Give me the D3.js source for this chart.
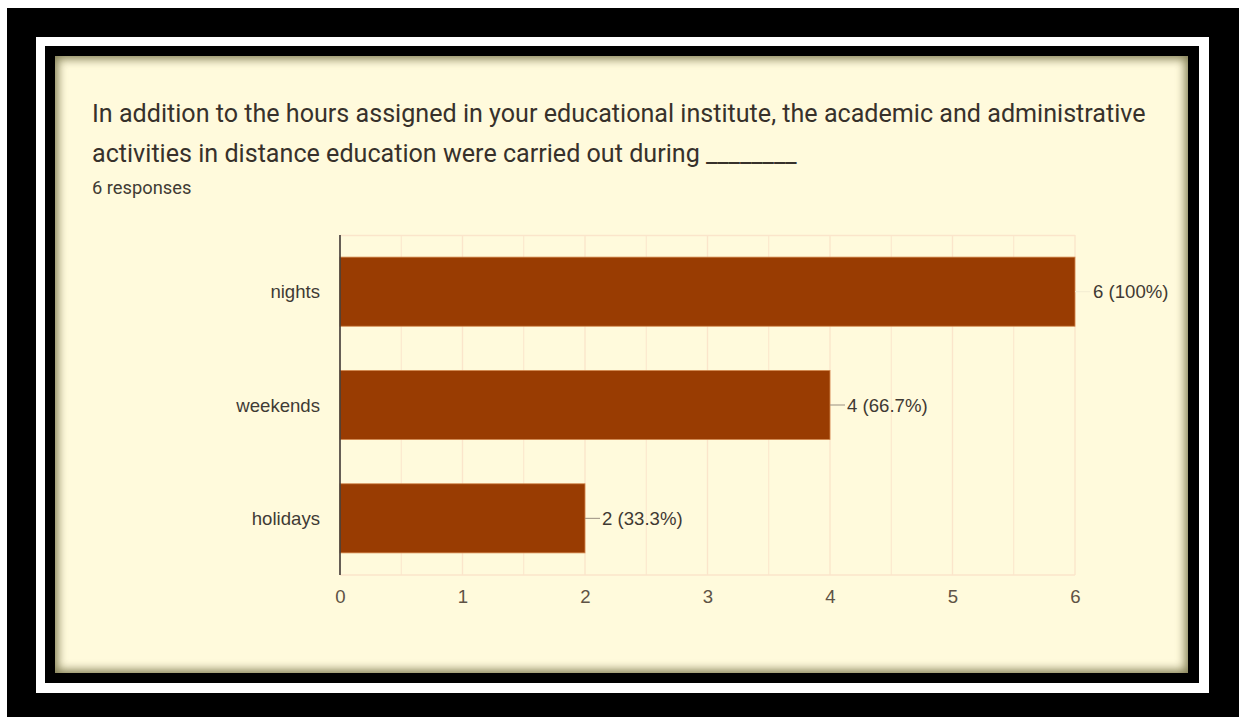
<!DOCTYPE html>
<html>
<head>
<meta charset="utf-8">
<script src="https://cdn.jsdelivr.net/npm/d3@7"></script>
<style>
  html, body { margin: 0; padding: 0; background: #ffffff; }
  body { width: 1239px; height: 717px; position: relative; overflow: hidden; font-family: Roboto, "Noto Sans", sans-serif; }
  .frame { position: absolute; }
  #chart { position: absolute; left: 0; top: 0; }
</style>
</head>
<body>
<div class="frame" style="left:7px;top:8px;width:1232px;height:709px;background:#000;"></div>
<div class="frame" style="left:36px;top:37px;width:1173px;height:656px;background:#fff;"></div>
<div class="frame" style="left:45px;top:46px;width:1154px;height:637px;background:#000;"></div>
<div class="frame" style="left:55px;top:56px;width:1133px;height:617px;background:#fffadc;box-shadow: inset 0 0 10px 3px rgba(90,85,40,0.75);"></div>
<svg id="chart" width="1239" height="717"></svg>
<script>
// Survey question and response counts
const titleLines = [
  "In addition to the hours assigned in your educational institute, the academic and administrative",
  "activities in distance education were carried out during ________"
];
const subtitle = "6 responses";
const categories = ["nights", "weekends", "holidays"];
const counts = [6, 4, 2];
const percents = ["100%", "66.7%", "33.3%"];
const xTicks = [0, 1, 2, 3, 4, 5, 6];
const xDomain = [0, 6];

const labelFont = "'Liberation Sans', Arial, sans-serif";
const svg = d3.select("#chart");

// Title block
titleLines.forEach((t, i) => {
  svg.append("text")
    .attr("x", 92)
    .attr("y", 122 + i * 40)
    .attr("font-size", 25.12)
    .attr("fill", "#37312b")
    .text(t);
});
svg.append("text")
  .attr("x", 92).attr("y", 194)
  .attr("font-size", 18.3)
  .attr("fill", "#413b34")
  .text(subtitle);

// Plot area
const plot = { left: 340, right: 1075, top: 235, bottom: 575 };

const x = d3.scaleLinear().domain(xDomain).range([plot.left, plot.right]);
const y = d3.scaleBand().domain(categories)
  .range([plot.top, plot.bottom])
  .paddingInner(0.39)
  .paddingOuter(0.195);

const gridColor = "#fbe5cb";

// Minor (half-unit) and major gridlines
const minor = d3.range(xDomain[0], xDomain[1] + 0.001, 0.5);
svg.append("g").selectAll("line").data(minor).join("line")
  .attr("x1", d => x(d)).attr("x2", d => x(d))
  .attr("y1", plot.top).attr("y2", plot.bottom)
  .attr("stroke", gridColor)
  .attr("stroke-width", d => Number.isInteger(d) ? 1.4 : 1);

// Plot frame top/bottom
svg.append("line")
  .attr("x1", plot.left).attr("x2", plot.right)
  .attr("y1", plot.top + 0.5).attr("y2", plot.top + 0.5)
  .attr("stroke", gridColor).attr("stroke-width", 1.4);
svg.append("line")
  .attr("x1", plot.left).attr("x2", plot.right)
  .attr("y1", plot.bottom).attr("y2", plot.bottom)
  .attr("stroke", gridColor).attr("stroke-width", 1.4);

// Bars
svg.append("g").selectAll("rect").data(categories).join("rect")
  .attr("x", x(0))
  .attr("y", d => y(d))
  .attr("width", (d, i) => x(counts[i]) - x(0))
  .attr("height", y.bandwidth())
  .attr("fill", "#993c02")
  .attr("stroke", "#d4894f")
  .attr("stroke-width", 0.8);

// Leader lines and value labels
const labels = svg.append("g");
categories.forEach((c, i) => {
  const cy = y(c) + y.bandwidth() / 2;
  const xe = x(counts[i]);
  labels.append("line")
    .attr("x1", xe).attr("x2", xe + 15)
    .attr("y1", cy).attr("y2", cy)
    .attr("stroke", i === 0 ? "#f3ecd2" : "#9a8f80")
    .attr("stroke-width", 1);
  labels.append("text")
    .attr("x", i === 0 ? xe + 18 : xe + 17)
    .attr("y", cy)
    .attr("dy", "0.36em")
    .attr("font-family", labelFont)
    .attr("font-size", 18.6)
    .attr("fill", "#3f3933")
    .text(`${counts[i]} (${percents[i]})`);
});

// Category labels
svg.append("g").selectAll("text").data(categories).join("text")
  .attr("x", 320)
  .attr("y", d => y(d) + y.bandwidth() / 2)
  .attr("dy", "0.36em")
  .attr("text-anchor", "end")
  .attr("font-family", labelFont)
  .attr("font-size", 18.6)
  .attr("fill", "#3f3a35")
  .text(d => d);

// Value axis
const xAxis = d3.axisBottom(x).tickValues(xTicks).tickSize(0).tickPadding(15).tickFormat(d3.format("d"));
const ax = svg.append("g")
  .attr("transform", `translate(0,${plot.bottom})`)
  .call(xAxis);
ax.select(".domain").remove();
ax.selectAll("text")
  .attr("font-family", labelFont)
  .attr("font-size", 18.6)
  .attr("fill", "#5e5245");

// Category axis line
svg.append("line")
  .attr("x1", plot.left).attr("x2", plot.left)
  .attr("y1", plot.top).attr("y2", plot.bottom)
  .attr("stroke", "#3f3a36")
  .attr("stroke-width", 1.6);
</script>
</body>
</html>
